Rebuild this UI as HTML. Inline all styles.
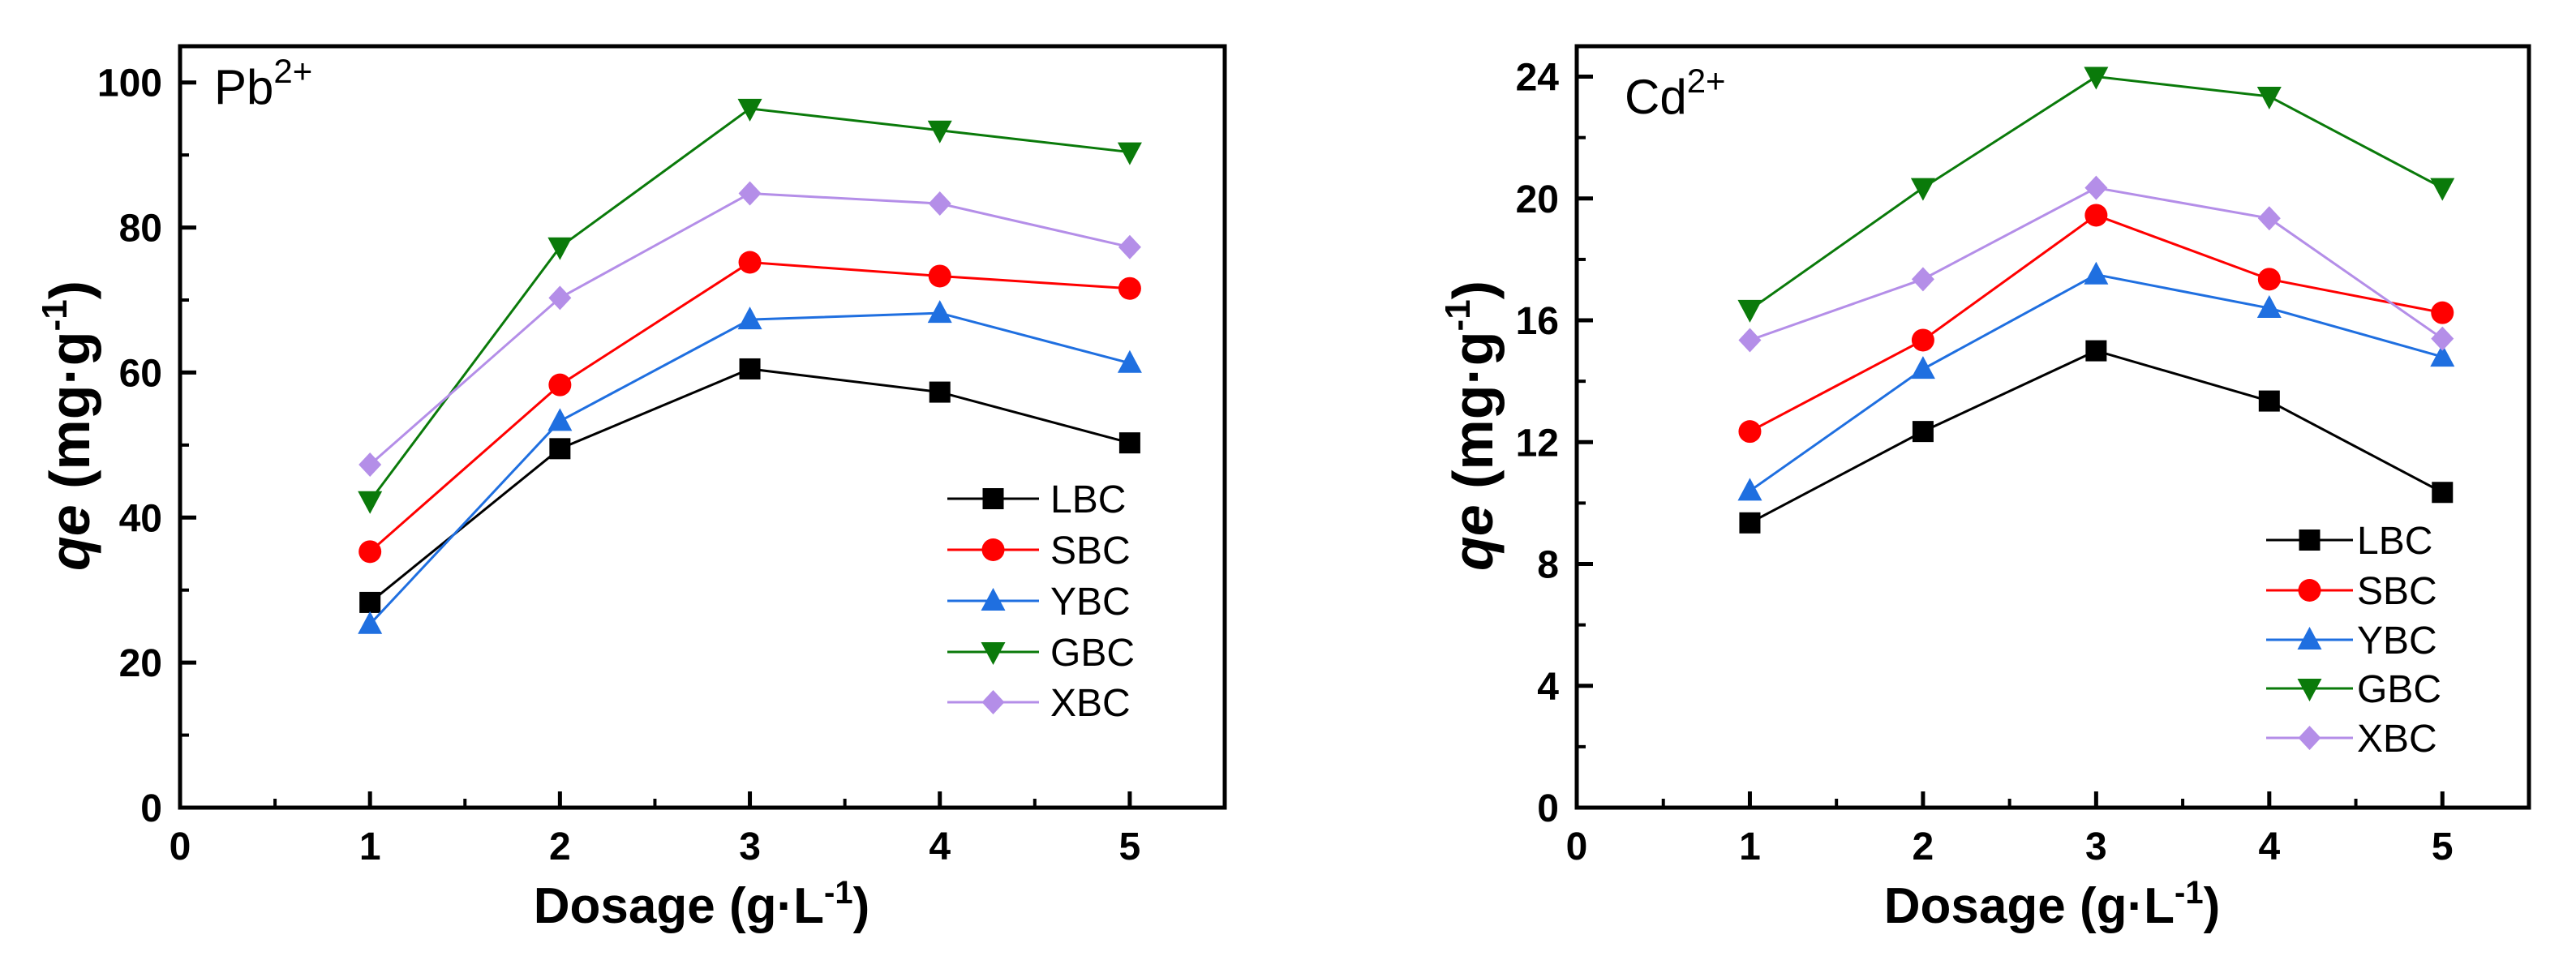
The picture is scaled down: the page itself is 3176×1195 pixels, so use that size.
<!DOCTYPE html>
<html><head><meta charset="utf-8"><style>
body{margin:0;background:#fff;overflow:hidden;}
svg{display:block;font-family:"Liberation Sans",Arial,sans-serif;}
</style></head><body>
<svg id="fig" width="3176" height="1195" viewBox="0 0 3176 1195"></svg>
<script>
const xCats=[1,2,3,4,5];
const seriesNames=["LBC","SBC","YBC","GBC","XBC"];
const colors=["#000000","#ff0000","#1f6fe0","#0a7a0a","#b48ee8"];
const pbLBC=[28.3,49.5,60.5,57.3,50.3];
const pbSBC=[35.3,58.3,75.2,73.3,71.6];
const pbYBC=[25.3,53.3,67.3,68.2,61.3];
const pbGBC=[42.3,77.3,96.4,93.4,90.4];
const pbXBC=[47.3,70.3,84.7,83.3,77.3];
const cdLBC=[9.35,12.35,15.0,13.35,10.35];
const cdSBC=[12.35,15.35,19.45,17.35,16.25];
const cdYBC=[10.4,14.4,17.5,16.4,14.8];
const cdGBC=[16.35,20.35,24.0,23.35,20.35];
const cdXBC=[15.35,17.35,20.35,19.35,15.4];
const xTicks=[0,1,2,3,4,5];
const pbYTicks=[0,20,40,60,80,100];
const cdYTicks=[0,4,8,12,16,20,24];

const NS="http://www.w3.org/2000/svg";
const svg=document.getElementById('fig');
function mk(tag,attrs,parent){const e=document.createElementNS(NS,tag);for(const k in attrs)e.setAttribute(k,attrs[k]);(parent||svg).appendChild(e);return e;}

function marker(g,type,cx,cy,col){
  let e;
  if(type===0)e=mk('rect',{x:cx-13,y:cy-13,width:26,height:26,fill:col},g);
  else if(type===1)e=mk('circle',{cx:cx,cy:cy,r:14,fill:col},g);
  else if(type===2)e=mk('polygon',{points:`${cx},${cy-16} ${cx+15},${cy+12} ${cx-15},${cy+12}`,fill:col},g);
  else if(type===3)e=mk('polygon',{points:`${cx},${cy+16} ${cx+15},${cy-12} ${cx-15},${cy-12}`,fill:col},g);
  else e=mk('polygon',{points:`${cx},${cy-15} ${cx+14},${cy} ${cx},${cy+15} ${cx-14},${cy}`,fill:col},g);
  return e;
}

function chart(o){
  const g=mk('g',{});
  
  
  const X=v=>o.L+(v-0)/(5.5)*(o.R-o.L);
  const Y=v=>o.B-(v/o.ymax)*(o.B-o.T);
  o.data.forEach((arr,i)=>{
    const sg=mk('g',{},g);
    
    
    const pl=mk('polyline',{points:arr.map((v,j)=>X(xCats[j])+','+Y(v)).join(' '),fill:'none',stroke:colors[i],'stroke-width':3},sg);
    
    
    arr.forEach((v,j)=>{
      const m=marker(sg,i,X(xCats[j]),Y(v),colors[i]);
      
      
    });
  });
  const fr=mk('rect',{x:o.L,y:o.T,width:o.R-o.L,height:o.B-o.T,fill:'none',stroke:'#000','stroke-width':5},g);
  
  
  o.yTicks.forEach((t,k)=>{
    mk('line',{x1:o.L,x2:o.L+20,y1:Y(t),y2:Y(t),stroke:'#000','stroke-width':5},g);
    if(k<o.yTicks.length-1){const m=(t+o.yTicks[k+1])/2;mk('line',{x1:o.L,x2:o.L+11,y1:Y(m),y2:Y(m),stroke:'#000','stroke-width':4},g);}
    const tx=mk('text',{x:o.L-22,y:Y(t)+17,'text-anchor':'end','font-size':48,'font-weight':'bold'},g);
    tx.textContent=t;
    
    
  });
  xTicks.forEach((t,k)=>{
    mk('line',{x1:X(t),x2:X(t),y1:o.B,y2:o.B-20,stroke:'#000','stroke-width':5},g);
    mk('line',{x1:X(t+0.5),x2:X(t+0.5),y1:o.B,y2:o.B-11,stroke:'#000','stroke-width':4},g);
    const tx=mk('text',{x:X(t),y:1060,'text-anchor':'middle','font-size':48,'font-weight':'bold'},g);
    tx.textContent=t;
    
    
  });
  const il=mk('text',{x:o.ionX,y:o.ionY,'font-size':60},g);
  il.innerHTML=o.ion+'<tspan dy="-26" font-size="42">2+</tspan>';
  
  
  const xt=mk('text',{x:o.xtX,y:1138,'text-anchor':'middle','font-size':62,'font-weight':'bold'},g);
  xt.innerHTML='Dosage (g·L<tspan dy="-24" font-size="40">-1</tspan><tspan dy="24">)</tspan>';
  
  
  const yt=mk('text',{x:0,y:0,'text-anchor':'middle','font-size':70,'font-weight':'bold',transform:`translate(${o.ytX},${o.ytY}) rotate(-90)`},g);
  yt.innerHTML='<tspan font-style="italic">qe</tspan><tspan> (mg·g</tspan><tspan dy="-28" font-size="44">-1</tspan><tspan dy="28">)</tspan>';
  
  
  const lg=mk('g',{},g);
  
  
  seriesNames.forEach((n,i)=>{
    const y=o.legY[i];
    const eg=mk('g',{},lg);
    
    
    mk('line',{x1:o.legX1,x2:o.legX2,y1:y,y2:y,stroke:colors[i],'stroke-width':3},eg);
    marker(eg,i,(o.legX1+o.legX2)/2,y,colors[i]);
    const t=mk('text',{x:o.legT,y:y+17,'font-size':48},eg);
    t.textContent=n;
  });
}
chart({name:'chart-pb',L:222,R:1510,T:57,B:996,ymax:105,yTicks:pbYTicks,
  data:[pbLBC,pbSBC,pbYBC,pbGBC,pbXBC],ion:'Pb',ionX:264,ionY:128,
  xtX:865,ytX:110,ytY:525,legX1:1168,legX2:1281,legT:1295,legY:[615,678,741,804,866]});
chart({name:'chart-cd',L:1944,R:3118,T:57,B:996,ymax:25,yTicks:cdYTicks,
  data:[cdLBC,cdSBC,cdYBC,cdGBC,cdXBC],ion:'Cd',ionX:2003,ionY:140,
  xtX:2530,ytX:1840,ytY:525,legX1:2794,legX2:2901,legT:2906,legY:[666,728,789,849,910]});
</script>
</body></html>
